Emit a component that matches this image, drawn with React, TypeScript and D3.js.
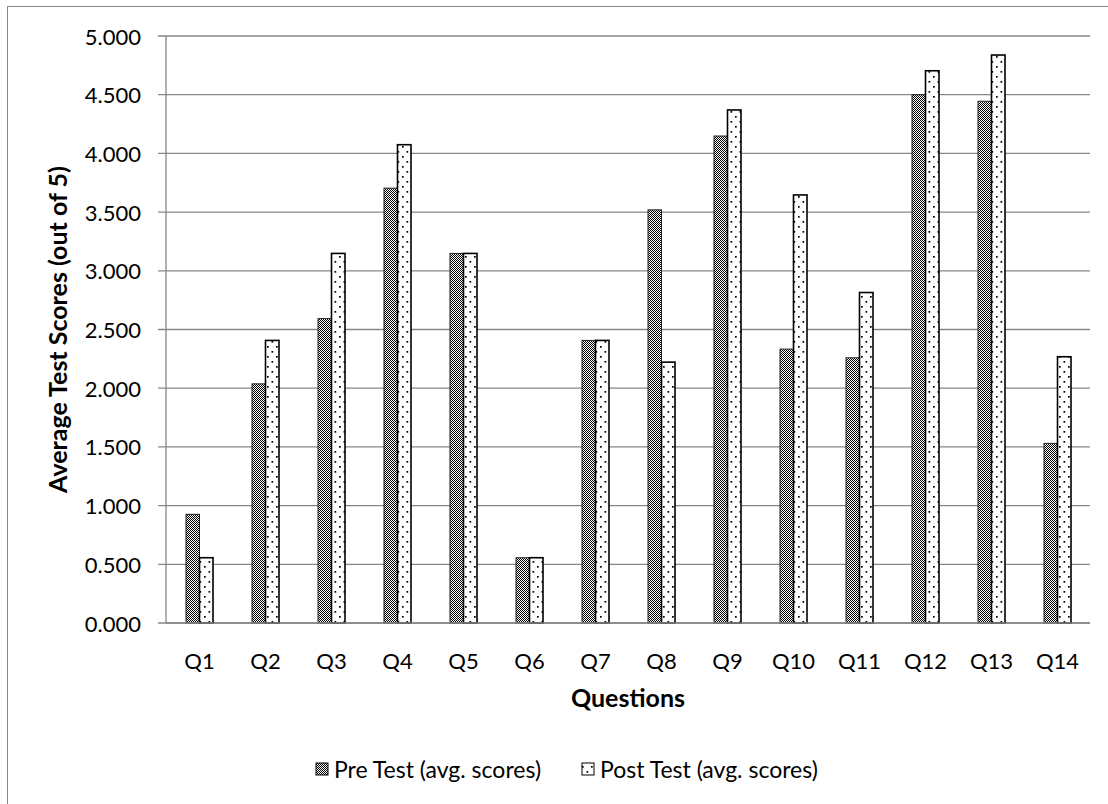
import React from "react";
import * as d3 from "d3";

const questions = ["Q1", "Q2", "Q3", "Q4", "Q5", "Q6", "Q7", "Q8", "Q9", "Q10", "Q11", "Q12", "Q13", "Q14"];
const preScores = [0.926, 2.037, 2.593, 3.704, 3.148, 0.556, 2.407, 3.519, 4.148, 2.333, 2.259, 4.5, 4.444, 1.53];
const postScores = [0.556, 2.407, 3.148, 4.074, 3.148, 0.556, 2.407, 2.222, 4.37, 3.646, 2.815, 4.704, 4.838, 2.268];
const yTicks = [0, 0.5, 1, 1.5, 2, 2.5, 3, 3.5, 4, 4.5, 5];
const seriesNames = ["Pre Test (avg. scores)", "Post Test (avg. scores)"];

const W = 1108;
const H = 804;
const plot = { left: 166, right: 1090, top: 36, bottom: 623 };
const FONT = "Lato, 'Open Sans', sans-serif";
const GRID = "#868686";

export default function App() {
  const x = d3.scaleBand<string>().domain(questions).range([plot.left, plot.right]).padding(0);
  const y = d3.scaleLinear().domain([0, 5]).range([plot.bottom, plot.top]);
  const barW = 13.5;
  const inner = d3.scaleBand<string>().domain(["pre", "post"]).range([-barW, barW]).padding(0);
  const fmt = d3.format(".3f");

  const fills = ["url(#checker)", "url(#dots)"];
  const rows = questions.map((q, i) => ({ q, pre: preScores[i], post: postScores[i] }));
  const legendX = [316, 582];

  return (
    <svg
      width={W}
      height={H}
      style={{ position: "absolute", left: 0, top: 0, background: "#fff" }}
      fontFamily={FONT}
    >
      <defs>
        <pattern id="checker" patternUnits="userSpaceOnUse" width={2} height={2}>
          <rect width={2} height={2} fill="#fff" />
          <rect x={0} y={0} width={1} height={1} fill="#000" />
          <rect x={1} y={1} width={1} height={1} fill="#000" />
        </pattern>
        <pattern id="dots" patternUnits="userSpaceOnUse" width={9} height={10}>
          <rect width={9} height={10} fill="#fff" />
          <rect x={1.5} y={1} width={1.7} height={1.7} fill="#000" />
          <rect x={6} y={6} width={1.7} height={1.7} fill="#000" />
        </pattern>
      </defs>

      {/* chart frame */}
      <rect x={7.5} y={6.5} width={W + 10} height={H + 10} fill="#fff" stroke={GRID} strokeWidth={1} />

      {/* gridlines and y ticks */}
      {yTicks.map((t) => (
        <g key={t}>
          <line x1={plot.left - 8} x2={plot.right} y1={y(t)} y2={y(t)} stroke={GRID} strokeWidth={1.3} />
          <text x={141} y={y(t)} textAnchor="end" dominantBaseline="central" fontSize={22} fill="#000">
            {fmt(t)}
          </text>
        </g>
      ))}
      <line x1={plot.left} x2={plot.left} y1={plot.top} y2={plot.bottom} stroke={GRID} strokeWidth={1.3} />

      {/* bars */}
      {rows.map((r) => {
        const cx = (x(r.q) as number) + x.bandwidth() / 2 + 0.5;
        return (
          <g key={r.q}>
            <rect
              x={cx + (inner("pre") as number)}
              y={y(r.pre)}
              width={inner.bandwidth()}
              height={y(0) - y(r.pre)}
              fill={fills[0]}
              stroke="#222"
              strokeWidth={1}
            />
            <rect
              x={cx + (inner("post") as number)}
              y={y(r.post)}
              width={inner.bandwidth()}
              height={y(0) - y(r.post)}
              fill={fills[1]}
              stroke="#000"
              strokeWidth={1.6}
            />
            <text x={cx} y={660} textAnchor="middle" dominantBaseline="central" fontSize={22} fill="#000">
              {r.q}
            </text>
          </g>
        );
      })}
      <line x1={plot.left} x2={plot.right} y1={plot.bottom} y2={plot.bottom} stroke={GRID} strokeWidth={1.3} />

      {/* axis titles */}
      <text
        x={(plot.left + plot.right) / 2}
        y={697}
        textAnchor="middle"
        dominantBaseline="central"
        fontSize={25}
        fontWeight="bold"
        fill="#000"
      >
        Questions
      </text>
      <text
        transform={`translate(57, ${(plot.top + plot.bottom) / 2}) rotate(-90)`}
        textAnchor="middle"
        dominantBaseline="central"
        fontSize={25}
        fontWeight="bold"
        fill="#000"
      >
        Average Test Scores (out of 5)
      </text>

      {/* legend */}
      {seriesNames.map((name, i) => (
        <g key={name}>
          <rect x={legendX[i]} y={763} width={12} height={12} fill={fills[i]} stroke="#000" strokeWidth={1} />
          <text x={legendX[i] + 18} y={769} dominantBaseline="central" fontSize={23} fill="#000">
            {name}
          </text>
        </g>
      ))}
    </svg>
  );
}
